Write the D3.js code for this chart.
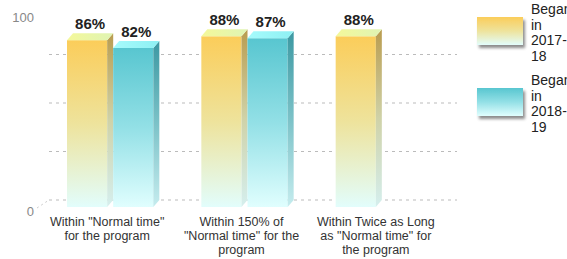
<!DOCTYPE html>
<html>
<head>
<meta charset="utf-8">
<script src="https://cdn.jsdelivr.net/npm/d3@7"></script>
<style>
  body { margin: 0; background: #fff; }
  svg { display: block; font-family: "Liberation Sans", Arial, sans-serif; }
</style>
</head>
<body>
<svg id="chart" width="567" height="259"></svg>
<script>
// categories (label lines) and series values
const categories = ["normal", "150", "twice"];
const categoryLines = [
    ["Within \"Normal time\"", "for the program"],
    ["Within 150% of", "\"Normal time\" for the", "program"],
    ["Within Twice as Long", "as \"Normal time\" for", "the program"]
];
const series = ["Began in 2017-18", "Began in 2018-19"];
const legendLines = [["Began", "in", "2017-", "18"], ["Began", "in", "2018-", "19"]];
const values2017 = [86, 88, 88];
const values2018 = [82, 87, null];
const yTicks = [0, 100];
const gridTicks = [0, 25, 50, 75];

const W = 567, H = 259;
const DX = 6, DY = 7; // 3d depth

const svg = d3.select("#chart");
const defs = svg.append("defs");

const palettes = [
    {front: ["#fbcd5a", "#eee39c", "#e2fdfc"], side: ["#b99c4f", "#cfd2a8", "#d5efee"], top: ["#f4f89a", "#dff4b4"]},
    {front: ["#58c6d0", "#93e0e6", "#e0fefe"], side: ["#3c98a2", "#7cc2c8", "#c5ecee"], top: ["#a6fbfc", "#8ef0f3"]}
];

palettes.forEach((p, i) => {
    let f = defs.append("linearGradient").attr("id", "front" + i)
        .attr("x1", 0).attr("y1", 0).attr("x2", 0).attr("y2", 1);
    p.front.forEach((c, j) => f.append("stop").attr("offset", j / (p.front.length - 1)).attr("stop-color", c));
    let s = defs.append("linearGradient").attr("id", "side" + i)
        .attr("x1", 0).attr("y1", 0).attr("x2", 0).attr("y2", 1);
    p.side.forEach((c, j) => s.append("stop").attr("offset", j / (p.side.length - 1)).attr("stop-color", c));
    let t = defs.append("linearGradient").attr("id", "top" + i)
        .attr("x1", 0).attr("y1", 0).attr("x2", 1).attr("y2", 0);
    p.top.forEach((c, j) => t.append("stop").attr("offset", j).attr("stop-color", c));
});

let shadow = defs.append("filter").attr("id", "shadow")
    .attr("x", "-20%").attr("y", "-20%").attr("width", "150%").attr("height", "160%");
shadow.append("feDropShadow").attr("dx", 2).attr("dy", 3).attr("stdDeviation", 1.5)
    .attr("flood-color", "#000").attr("flood-opacity", 0.45);

// scales
const x0 = d3.scaleBand().domain(categories).range([43, 446]);
const x1 = d3.scaleBand().domain([0, 1]).range([0, x0.bandwidth()])
    .paddingInner(0.13).paddingOuter(0.52);
const y = d3.scaleLinear().domain([0, 100]).range([207, 13]);

// back grid
const grid = svg.append("g");
grid.selectAll("line.grid")
    .data(gridTicks)
    .join("line")
    .attr("x1", 43 + DX).attr("x2", 457)
    .attr("y1", d => y(d) - DY).attr("y2", d => y(d) - DY)
    .attr("stroke", "#bbb").attr("stroke-dasharray", "3,4").attr("stroke-width", 1);
grid.append("line")
    .attr("x1", 37).attr("y1", y(0) + 1)
    .attr("x2", 43 + DX).attr("y2", y(0) - DY)
    .attr("stroke", "#ccc").attr("stroke-dasharray", "2,3");

// y labels
svg.append("g").selectAll("text")
    .data(yTicks)
    .join("text")
    .attr("x", 34).attr("y", d => y(d) + 9)
    .attr("text-anchor", "end")
    .attr("font-size", 13).attr("fill", "#888")
    .text(d => d);

// bars
let bars = [];
categories.forEach((c, i) => {
    [values2017[i], values2018[i]].forEach((v, s) => {
        if (v != null) bars.push({cat: c, s: s, v: v});
    });
});

const bw = x1.bandwidth();
const barG = svg.append("g").selectAll("g.bar")
    .data(bars)
    .join("g")
    .attr("class", "bar")
    .attr("transform", d => `translate(${x0(d.cat) + x1(d.s)},0)`);

barG.append("rect")
    .attr("x", 0).attr("y", d => y(d.v))
    .attr("width", bw).attr("height", d => y(0) - y(d.v))
    .attr("fill", d => `url(#front${d.s})`);

barG.append("path")
    .attr("d", d => `M${bw},${y(d.v)} L${bw + DX},${y(d.v) - DY} L${bw + DX},${y(0) - DY} L${bw},${y(0)} Z`)
    .attr("fill", d => `url(#side${d.s})`);

barG.append("path")
    .attr("d", d => `M0,${y(d.v)} L${DX},${y(d.v) - DY} L${bw + DX},${y(d.v) - DY} L${bw},${y(d.v)} Z`)
    .attr("fill", d => `url(#top${d.s})`);

barG.append("text")
    .attr("x", (bw + DX) / 2)
    .attr("y", d => y(d.v) - DY - 4)
    .attr("text-anchor", "middle")
    .attr("font-size", 15).attr("font-weight", "bold").attr("fill", "#222")
    .text(d => d.v + "%");

// category labels
svg.append("g").selectAll("text")
    .data(categories)
    .join("text")
    .attr("x", d => x0(d) + x0.bandwidth() / 2 - 3)
    .attr("y", 226)
    .attr("text-anchor", "middle")
    .attr("font-size", 12.5).attr("fill", "#333")
    .each(function(d, i) {
        d3.select(this).selectAll("tspan")
            .data(categoryLines[i])
            .join("tspan")
            .attr("x", x0(d) + x0.bandwidth() / 2 - 3)
            .attr("dy", (l, j) => j ? 14 : 0)
            .text(l => l);
    });

// legend
const legY = [17, 88];
const leg = svg.append("g").selectAll("g")
    .data(series)
    .join("g")
    .attr("transform", (d, i) => `translate(477,${legY[i]})`);

leg.append("rect")
    .attr("width", 46).attr("height", 28)
    .attr("fill", (d, i) => `url(#front${i})`)
    .attr("filter", "url(#shadow)");

leg.append("text")
    .attr("x", 54).attr("y", -3)
    .attr("font-size", 14).attr("fill", "#222")
    .each(function(d, i) {
        d3.select(this).selectAll("tspan")
            .data(legendLines[i])
            .join("tspan")
            .attr("x", 54)
            .attr("dy", (l, j) => j ? 15.5 : 0)
            .text(l => l);
    });
</script>
</body>
</html>
